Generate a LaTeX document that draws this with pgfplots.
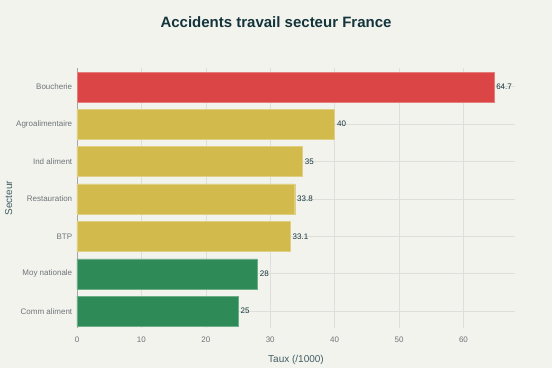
\documentclass[border=0pt]{standalone}
\usepackage{pgfplots}
\pgfplotsset{compat=1.18}
\usepackage{fontspec}
\setmainfont{Liberation Sans}
\definecolor{bg}{HTML}{F3F3EE}
\definecolor{cred}{HTML}{DB4545}
\definecolor{cyel}{HTML}{D2BA4C}
\definecolor{cgreen}{HTML}{2E8B57}
\definecolor{ctitle}{HTML}{13343B}
\definecolor{ctick}{HTML}{6E7478}
\definecolor{cgrid}{HTML}{DEDEDA}
\begin{document}
\begin{tikzpicture}
\path[use as bounding box, fill=bg] (0,0) rectangle (552pt,368pt);
\node[anchor=center, font=\fontsize{15}{18}\selectfont\bfseries, text=ctitle] at (276pt,346pt) {Accidents travail secteur France};
\begin{axis}[
  at={(77pt,40pt)}, anchor=south west,
  scale only axis, width=438pt, height=260pt,
  xbar, bar width=30pt, bar shift=0pt,
  xmin=0, xmax=68, ymin=-0.45, ymax=6.5,
  ytick={0,...,6},
  yticklabels={Comm aliment,Moy nationale,BTP,Restauration,Ind aliment,Agroalimentaire,Boucherie},
  xtick={0,10,...,60},
  axis lines*=left,
  x axis line style={draw=none},
  y axis line style={draw=gray!70, line width=0.8pt},
  xmajorgrids, ymajorgrids,
  grid style={cgrid, line width=0.6pt},
  ytick style={draw=none},
  xtick style={draw=none},
  tick label style={font=\fontsize{8}{10}\selectfont, text=ctick},
  xticklabel style={yshift=-5pt},
  yticklabel style={xshift=3pt},
  /pgf/number format/assume math mode=true,
  xlabel={Taux (/1000)}, ylabel={Secteur},
  label style={font=\fontsize{10}{12}\selectfont, text=ctitle!80},
  xlabel style={yshift=-6pt},
  ylabel style={yshift=-3pt},
  nodes near coords,
  every node near coord/.append style={font=\fontsize{8}{10}\selectfont, text=ctitle, anchor=west, xshift=-1pt},
  point meta=explicit symbolic,
]
\addplot[fill=cred, draw=cred!70!white] coordinates {(64.7,6) [64.7]};
\addplot[fill=cyel, draw=cyel!70!white] coordinates {(40,5) [40] (35,4) [35] (33.8,3) [33.8] (33.1,2) [33.1]};
\addplot[fill=cgreen, draw=cgreen!70!white] coordinates {(28,1) [28] (25,0) [25]};
\end{axis}
\end{tikzpicture}
\end{document}
